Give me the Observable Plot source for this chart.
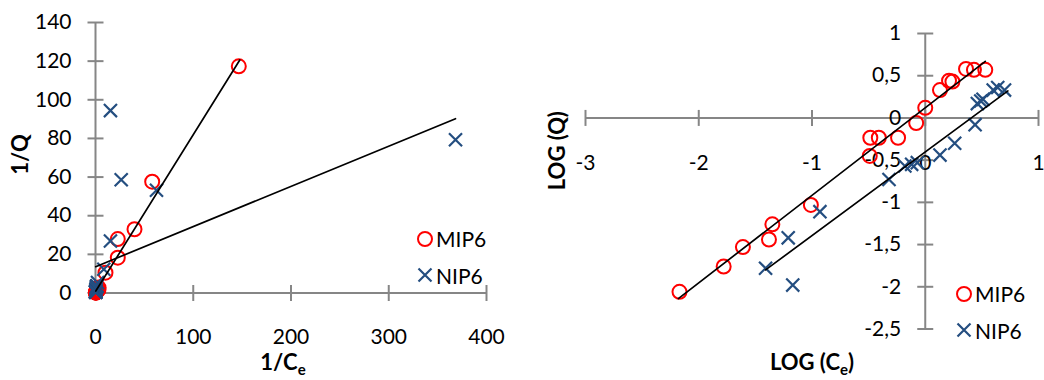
<!DOCTYPE html>
<html><head><meta charset="utf-8">
<script src="https://cdn.jsdelivr.net/npm/d3@7"></script>
<script src="https://cdn.jsdelivr.net/npm/@observablehq/plot@0.6"></script>
<style>
body{margin:0;background:#fff;}
#wrap{position:relative;width:1044px;height:380px;font-family:Lato,sans-serif;overflow:hidden;}
.panel{position:absolute;top:0;}
.leg{position:absolute;font:21px Lato,sans-serif;color:#000;display:flex;align-items:center;white-space:nowrap;}
.leg svg{margin-right:3px;overflow:visible;}
</style></head><body><div id="wrap"></div>
<script>
// ---------- data ----------
const seriesNames = ["MIP6", "NIP6"];

// Left panel: 1/Ce vs 1/Q
const inv_MIP6_x = [146.6, 58.0, 39.9, 22.8, 22.8, 10.2, 3.09, 3.05, 2.57, 1.74, 1.20, 1.00, 0.74, 0.62, 0.58, 0.44, 0.37, 0.30];
const inv_MIP6_y = [117.3, 57.6, 33.0, 27.9, 18.3, 10.5, 2.82, 1.72, 1.72, 1.72, 1.15, 0.76, 0.47, 0.36, 0.37, 0.26, 0.27, 0.27];
const inv_NIP6_x = [368.3, 62.4, 26.3, 15.3, 15.3, 8.5, 2.09, 1.51, 1.32, 1.17, 0.74, 0.55, 0.36, 0.35, 0.32, 0.31, 0.25, 0.23, 0.20];
const inv_NIP6_y = [79.3, 53.2, 58.6, 94.4, 26.9, 12.3, 5.37, 3.72, 3.55, 3.39, 2.75, 2.00, 1.20, 0.68, 0.63, 0.60, 0.47, 0.44, 0.47];
const inv_trend_MIP6_x = [0.3, 147.6];
const inv_trend_MIP6_y = [1.0, 120.6];
const inv_trend_NIP6_x = [0.2, 368.3];
const inv_trend_NIP6_y = [13.6, 90.2];
const inv_xTicks = [0, 100, 200, 300, 400];
const inv_yTicks = [0, 20, 40, 60, 80, 100, 120, 140];

// Right panel: LOG(Ce) vs LOG(Q)
const log_MIP6_x = [-2.17, -1.78, -1.61, -1.38, -1.35, -1.01, -0.49, -0.485, -0.41, -0.24, -0.08, 0.00, 0.13, 0.21, 0.24, 0.36, 0.43, 0.53];
const log_MIP6_y = [-2.06, -1.76, -1.53, -1.44, -1.26, -1.03, -0.45, -0.235, -0.235, -0.235, -0.06, 0.12, 0.33, 0.44, 0.43, 0.58, 0.57, 0.57];
const log_NIP6_x = [-1.41, -1.21, -1.17, -0.93, -0.32, -0.18, -0.12, -0.07, 0.13, 0.26, 0.44, 0.46, 0.49, 0.51, 0.60, 0.64, 0.70];
const log_NIP6_y = [-1.78, -1.42, -1.98, -1.11, -0.73, -0.57, -0.55, -0.53, -0.44, -0.30, -0.08, 0.17, 0.20, 0.22, 0.33, 0.36, 0.33];
const log_trend_MIP6_x = [-2.18, 0.53];
const log_trend_MIP6_y = [-2.14, 0.67];
const log_trend_NIP6_x = [-1.41, 0.73];
const log_trend_NIP6_y = [-1.80, 0.32];
const log_xTicks = [-3, -2, -1, 0, 1];
const log_yTicks = [-2.5, -2, -1.5, -1, -0.5, 0, 0.5, 1];

// ---------- styles ----------
const RED = "#ff0000", BLUE = "#244e80", GRAY = "#868686";
const zip = (xs, ys) => xs.map((x, i) => ({x, y: ys[i]}));
const vtick = {draw(ctx, size) { const r = Math.sqrt(size / Math.PI); ctx.moveTo(0, -r); ctx.lineTo(0, r); }};
const htick = {draw(ctx, size) { const r = Math.sqrt(size / Math.PI); ctx.moveTo(-r, 0); ctx.lineTo(r, 0); }};
const comma = d => String(d).replace(".", ",");
const baseStyle = {fontFamily: "Lato, sans-serif", fontSize: "21px", background: "transparent", overflow: "visible", color: "#000"};

function panel({width, margins, xDomain, yDomain, xTicks, yTicks, fmt, mip, nip, tMip, tNip, xLabel, yLabel, xLabelPos, yLabelPos, labelOff}) {
  return Plot.plot({
    width, height: 380, ...margins,
    x: {domain: xDomain, axis: null},
    y: {domain: yDomain, axis: null},
    style: baseStyle,
    marks: [
      Plot.ruleY([0], {x1: xDomain[0], x2: xDomain[1], stroke: GRAY, strokeWidth: 2}),
      Plot.ruleX([0], {y1: yDomain[0], y2: yDomain[1], stroke: GRAY, strokeWidth: 2}),
      Plot.dot(xTicks, {x: d => d, y: 0, symbol: vtick, r: 8, stroke: GRAY, strokeWidth: 2, fill: "none"}),
      Plot.dot(yTicks, {x: 0, y: d => d, symbol: htick, r: 8, stroke: GRAY, strokeWidth: 2, fill: "none"}),
      Plot.text(xTicks, {x: d => d, y: 0, dy: labelOff, text: d => fmt(d), fill: "#000", lineAnchor: "middle"}),
      Plot.text(yTicks, {x: 0, y: d => d, dx: -24, text: d => fmt(d), textAnchor: "end", fill: "#000", lineAnchor: "middle"}),
      Plot.dot(mip, {x: "x", y: "y", r: 7, stroke: RED, strokeWidth: 2, fill: "none"}),
      Plot.dot(nip, {x: "x", y: "y", r: 6, symbol: "times", stroke: BLUE, strokeWidth: 2.2}),
      Plot.line(tMip, {x: "x", y: "y", stroke: "#000", strokeWidth: 1.7}),
      Plot.line(tNip, {x: "x", y: "y", stroke: "#000", strokeWidth: 1.7}),
      Plot.text([xLabel], {frameAnchor: "bottom", dx: xLabelPos[0], dy: xLabelPos[1], fontWeight: "bold", fontSize: 22, fill: "#000", lineAnchor: "middle"}),
      Plot.text([yLabel], {frameAnchor: "left", dx: yLabelPos[0], dy: yLabelPos[1], rotate: -90, fontWeight: "bold", fontSize: 22, fill: "#000", lineAnchor: "middle"})
    ]
  });
}

// turn "Cₑ" into C with a real subscript e
function subscriptify(svg) {
  svg.querySelectorAll("text").forEach(t => {
    const s = t.textContent;
    const k = s.indexOf("ₑ");
    if (k < 0) return;
    const before = s.slice(0, k), after = s.slice(k + 1);
    t.textContent = "";
    const ns = "http://www.w3.org/2000/svg";
    const a = document.createElementNS(ns, "tspan"); a.textContent = before; t.appendChild(a);
    const b = document.createElementNS(ns, "tspan"); b.textContent = "e";
    b.setAttribute("font-size", "15"); b.setAttribute("dy", "5"); t.appendChild(b);
    if (after) {
      const c = document.createElementNS(ns, "tspan"); c.textContent = after;
      c.setAttribute("dy", "-5"); t.appendChild(c);
    }
  });
}

const wrap = document.getElementById("wrap");

const left = panel({
  width: 540,
  margins: {marginLeft: 95, marginRight: 54, marginTop: 22, marginBottom: 87.5},
  xDomain: [0, 400], yDomain: [0, 140], xTicks: inv_xTicks, yTicks: inv_yTicks, fmt: d => String(d),
  mip: zip(inv_MIP6_x, inv_MIP6_y), nip: zip(inv_NIP6_x, inv_NIP6_y),
  tMip: zip(inv_trend_MIP6_x, inv_trend_MIP6_y), tNip: zip(inv_trend_NIP6_x, inv_trend_NIP6_y),
  xLabel: "1/Cₑ", yLabel: "1/Q", xLabelPos: [-8, 70], yLabelPos: [-75, 0], labelOff: 44
});
left.classList.add("panel"); left.style.left = "0px";
subscriptify(left);
wrap.appendChild(left);

const right = panel({
  width: 504,
  margins: {marginLeft: 45, marginRight: 6, marginTop: 33, marginBottom: 51.5},
  xDomain: [-3, 1], yDomain: [-2.5, 1], xTicks: log_xTicks, yTicks: log_yTicks, fmt: comma,
  mip: zip(log_MIP6_x, log_MIP6_y), nip: zip(log_NIP6_x, log_NIP6_y),
  tMip: zip(log_trend_MIP6_x, log_trend_MIP6_y), tNip: zip(log_trend_NIP6_x, log_trend_NIP6_y),
  xLabel: "LOG (Cₑ)", yLabel: "LOG (Q)", xLabelPos: [0, 34], yLabelPos: [-28, -8], labelOff: 45
});
right.classList.add("panel"); right.style.left = "540px";
subscriptify(right);
wrap.appendChild(right);

// rotated y titles: nudge down to match the reference placement
[left, right].forEach(svg => {
  svg.querySelectorAll("text").forEach(t => {
    const tr = t.getAttribute("transform") || "";
    if (tr.includes("rotate") && (t.textContent === "1/Q" || t.textContent === "LOG (Q)")) {
      t.setAttribute("transform", "translate(0,17) " + tr);
    }
  });
});

// ---------- legends ----------
function legend(left, top) {
  seriesNames.forEach((name, i) => {
    const d = document.createElement("div");
    d.className = "leg";
    d.style.left = left + "px";
    d.style.top = (top + i * 36.5) + "px";
    const sym = i === 0
      ? `<circle cx="8" cy="8" r="7" fill="none" stroke="${RED}" stroke-width="2"/>`
      : `<path d="M1.5,1.5L14.5,14.5M1.5,14.5L14.5,1.5" stroke="${BLUE}" stroke-width="2.2"/>`;
    d.innerHTML = `<svg width="16" height="16">${sym}</svg><span>${name}</span>`;
    wrap.appendChild(d);
  });
}
legend(417, 226);
legend(956, 281);
</script></body></html>
